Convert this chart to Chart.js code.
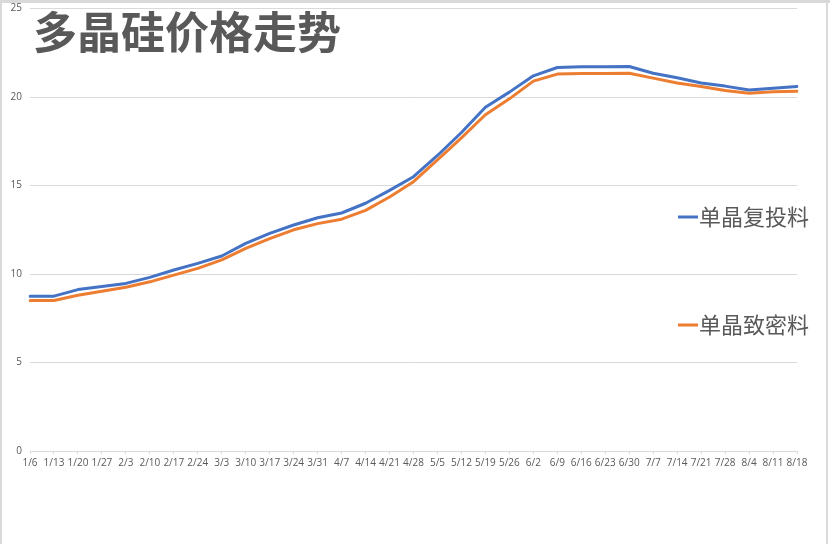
<!DOCTYPE html>
<html>
<head>
<meta charset="utf-8">
<script src="https://cdn.jsdelivr.net/npm/chart.js@4"></script>
<style>
  html, body { margin: 0; padding: 0; background: #fff; }
  #wrap { position: relative; width: 830px; height: 544px; }
  canvas { display: block; }
</style>
</head>
<body>
<div id="wrap"><canvas id="c" width="830" height="544"></canvas></div>
<script>
const chartTitle = '多晶硅价格走势';
const categories = ['1/6','1/13','1/20','1/27','2/3','2/10','2/17','2/24','3/3','3/10','3/17','3/24','3/31','4/7','4/14','4/21','4/28','5/5','5/12','5/19','5/26','6/2','6/9','6/16','6/23','6/30','7/7','7/14','7/21','7/28','8/4','8/11','8/18'];
const seriesNames = ['单晶复投料', '单晶致密料'];
const fuTouLiao = [8.75, 8.75, 9.12, 9.29, 9.47, 9.81, 10.23, 10.6, 11.02, 11.73, 12.3, 12.77, 13.18, 13.45, 14.0, 14.73, 15.5, 16.7, 18.0, 19.43, 20.28, 21.2, 21.67, 21.72, 21.72, 21.73, 21.35, 21.09, 20.8, 20.62, 20.4, 20.5, 20.6];
const zhiMiLiao = [8.5, 8.5, 8.8, 9.03, 9.25, 9.56, 9.94, 10.32, 10.8, 11.45, 12.0, 12.5, 12.85, 13.1, 13.6, 14.35, 15.22, 16.45, 17.7, 19.0, 19.9, 20.9, 21.3, 21.33, 21.33, 21.35, 21.07, 20.8, 20.6, 20.37, 20.22, 20.3, 20.33];
const yTicks = [0, 5, 10, 15, 20, 25];

const colors = ['#4472C4', '#ED7D31'];

const overlay = {
  id: 'overlay',
  beforeDraw(chart) {
    const ctx = chart.ctx;
    ctx.save();
    ctx.fillStyle = '#ffffff';
    ctx.fillRect(0, 0, chart.width, chart.height);
    ctx.fillStyle = '#d9d9d9';
    ctx.fillRect(0, 0, chart.width, 3);
    ctx.fillRect(0, 0, 2, chart.height);
    ctx.fillRect(826, 0, 2, chart.height);
    ctx.restore();
  },
  afterDraw(chart) {
    const ctx = chart.ctx;
    ctx.save();
    ctx.fillStyle = '#595959';
    ctx.font = 'bold 44px "Noto Sans CJK SC"';
    ctx.textBaseline = 'middle';
    ctx.textAlign = 'left';
    ctx.fillText(chartTitle, 33, 32);
    const legendY = [217, 325];
    chart.data.datasets.forEach((ds, i) => {
      ctx.strokeStyle = ds.borderColor;
      ctx.lineWidth = 3;
      ctx.beginPath();
      ctx.moveTo(678, legendY[i]);
      ctx.lineTo(698, legendY[i]);
      ctx.stroke();
      ctx.fillStyle = '#595959';
      ctx.font = '22px "Noto Sans CJK SC"';
      ctx.fillText(ds.label, 699, legendY[i]);
    });
    ctx.restore();
  }
};

new Chart(document.getElementById('c'), {
  type: 'line',
  data: {
    labels: categories,
    datasets: [
      { label: seriesNames[0], data: fuTouLiao, borderColor: colors[0], backgroundColor: colors[0], borderWidth: 3, pointRadius: 0, tension: 0, borderJoinStyle: 'round', borderCapStyle: 'round' },
      { label: seriesNames[1], data: zhiMiLiao, borderColor: colors[1], backgroundColor: colors[1], borderWidth: 3, pointRadius: 0, tension: 0, borderJoinStyle: 'round', borderCapStyle: 'round' }
    ]
  },
  options: {
    responsive: false,
    animation: false,
    layout: { padding: { top: 8.6, right: 33, left: 0, bottom: 0 } },
    plugins: { legend: { display: false }, title: { display: false }, tooltip: { enabled: false } },
    scales: {
      x: {
        offset: false,
        grid: { display: true, drawOnChartArea: false, drawTicks: true, tickLength: 3, color: '#d9d9d9' },
        border: { display: true, color: '#d9d9d9' },
        ticks: { color: '#595959', font: { family: 'Open Sans', size: 10 }, maxRotation: 0, minRotation: 0, autoSkip: false, padding: 3 },
        afterFit(scale) { scale.height = 93; }
      },
      y: {
        min: 0, max: 25,
        afterBuildTicks(scale) { scale.ticks = yTicks.map(v => ({ value: v })); },
        grid: { color: '#d9d9d9', drawTicks: false },
        border: { display: false },
        ticks: { color: '#595959', font: { family: 'Open Sans', size: 10 }, padding: 8 },
        afterFit(scale) { scale.width = 30; scale.paddingTop = 0; scale.paddingBottom = 0; }
      }
    }
  },
  plugins: [overlay]
});
</script>
</body>
</html>
